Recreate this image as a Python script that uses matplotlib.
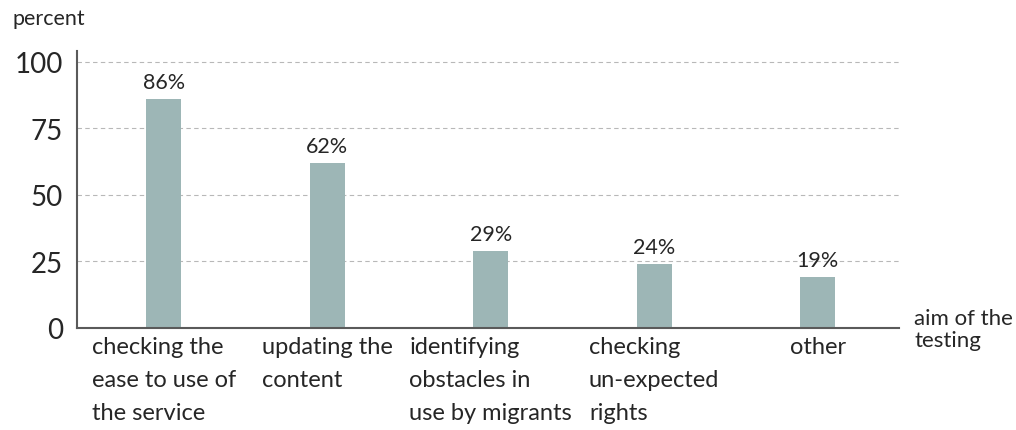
#!/usr/bin/env python3
"""Bar chart: aim of the testing, share of respondents in percent."""

import matplotlib

matplotlib.use("Agg")

import matplotlib.pyplot as plt

plt.rcParams["font.family"] = ["Lato", "DejaVu Sans"]

CATEGORIES = [
    "checking the\nease to use of\nthe service",
    "updating the\ncontent",
    "identifying\nobstacles in\nuse by migrants",
    "checking\nun-expected\nrights",
    "other",
]
PERCENTS = [86, 62, 29, 24, 19]
Y_TICKS = [0, 25, 50, 75, 100]

BAR_COLOR = "#9db6b6"
TEXT_COLOR = "#262626"
AXIS_COLOR = "#5a5a5a"
GRID_COLOR = "#b8b8b8"


def main() -> None:
    fig = plt.figure(figsize=(10.16, 4.31), dpi=100)
    ax = fig.add_axes([0.0758, 0.2367, 0.8094, 0.6426])

    x = list(range(len(CATEGORIES)))
    bars = ax.bar(x, PERCENTS, width=0.214, color=BAR_COLOR, zorder=3)

    for bar, pct in zip(bars, PERCENTS):
        ax.annotate(
            f"{pct}%",
            xy=(bar.get_x() + bar.get_width() / 2, bar.get_height()),
            xytext=(0, 5),
            textcoords="offset points",
            ha="center",
            va="bottom",
            fontsize=15.5,
            color=TEXT_COLOR,
        )

    ax.set_xlim(-0.53, 4.50)
    ax.set_ylim(0, 104)
    ax.set_yticks(Y_TICKS)
    ax.set_yticklabels([str(t) for t in Y_TICKS], fontsize=20, color=TEXT_COLOR)
    ax.set_xticks(x)
    ax.set_xticklabels(CATEGORIES, fontsize=17, color=TEXT_COLOR,
                       multialignment="left", linespacing=1.7, va="top")
    ax.tick_params(axis="y", length=0, pad=10)
    ax.tick_params(axis="x", length=0, pad=6)

    for t in Y_TICKS[1:]:
        ax.axhline(t, color=GRID_COLOR, linestyle=(0, (4, 3)), linewidth=0.8, zorder=1)

    for side in ("top", "right"):
        ax.spines[side].set_visible(False)
    for side in ("left", "bottom"):
        ax.spines[side].set_color(AXIS_COLOR)
        ax.spines[side].set_linewidth(1.5)
        ax.spines[side].set_zorder(4)

    fig.text(0.012, 0.955, "percent", fontsize=15.5, color=TEXT_COLOR, va="center")
    fig.text(0.900, 0.234, "aim of the\ntesting", fontsize=16, color=TEXT_COLOR,
             va="center", linespacing=1.1)

    fig.savefig("out.png", dpi=100, facecolor="white")
    plt.close(fig)


if __name__ == "__main__":
    main()
